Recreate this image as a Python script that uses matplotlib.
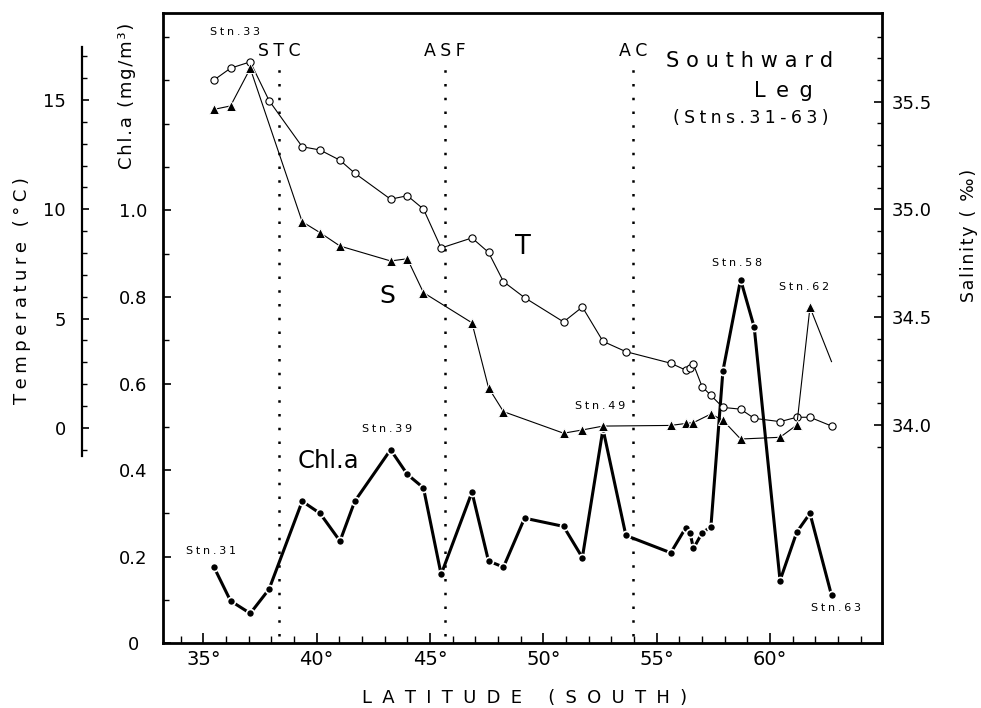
import matplotlib
matplotlib.use('Agg')
import matplotlib.pyplot as plt
from matplotlib.ticker import FixedLocator, MultipleLocator
import matplotlib.transforms as mtransforms
import numpy as np

plt.rcParams['font.family'] = ['DejaVu Sans']

# ---------------- data ----------------
stations = list(range(31, 64))
latitude = [35.47, 36.20, 37.07, 37.90, 39.36, 40.15, 41.03, 41.68, 43.26, 44.00,
            44.71, 45.49, 46.85, 47.58, 48.24, 49.17, 50.89, 51.72, 52.63, 53.64,
            55.62, 56.27, 56.47, 56.62, 57.00, 57.39, 57.92, 58.70, 59.30, 60.44,
            61.18, 61.76, 62.71]
chl = [0.176, 0.098, 0.069, 0.125, 0.328, 0.300, 0.236, 0.328, 0.447, 0.390,
       0.359, 0.159, 0.349, 0.190, 0.176, 0.289, 0.270, 0.198, 0.495, 0.249,
       0.209, 0.266, 0.255, 0.219, 0.255, 0.269, 0.629, 0.840, 0.730, 0.145,
       0.257, 0.300, 0.111]
temperature = [15.91, 16.45, 16.74, 14.97, 12.86, 12.71, 12.24, 11.65, 10.46, 10.62,
               10.01, 8.23, 8.69, 8.03, 6.69, 5.96, 4.85, 5.53, 3.96, 3.49,
               2.96, 2.65, 2.73, 2.91, 1.89, 1.49, 0.94, 0.86, 0.44, 0.29,
               0.49, 0.49, 0.09]
salinity = [35.464, 35.480, 35.654, None, 34.943, 34.892, 34.830, None, 34.761, 34.771,
            34.614, None, 34.474, 34.173, 34.062, None, 33.962, 33.977, 33.995, None,
            33.998, 34.007, None, 34.011, None, 34.051, 34.022, 33.935, None, 33.943,
            34.000, 34.546, 34.294]

front_names = ['STC', 'ASF', 'AC']
front_lat = [38.35, 45.65, 53.94]

lat_ticks = [35, 40, 45, 50, 55, 60]
chl_ticks = [0, 0.2, 0.4, 0.6, 0.8, 1.0]
chl_tick_labels = ['0', '0.2', '0.4', '0.6', '0.8', '1.0']
temp_ticks = [0, 5, 10, 15]
sal_ticks = [34.0, 34.5, 35.0, 35.5]
sal_tick_labels = ['34.0', '34.5', '35.0', '35.5']

# station labels: station -> (series it sits on, offset in points)
station_labels = {31: ('chl', (-1.9, 11.5)), 33: ('temp', (-10.8, 21.6)),
                  39: ('chl', (-2.3, 14.6)), 49: ('chl', (-2.2, 16.8)),
                  58: ('chl', (-2.3, 11.7)), 62: ('sal', (-4.3, 14.4)),
                  63: ('chl', (3.2, -9.4))}


def spaced(text, gap):
    return gap.join(text)


# ---------------- figure ----------------
fig = plt.figure(figsize=(9.81, 7.08), dpi=100)
ax = fig.add_axes([0.1665, 0.0914, 0.7323, 0.8898])
axT = ax.twinx()
axS = ax.twinx()

ax.set_xlim(33.236, 64.925)
ax.set_ylim(0, 1.455)
axT.set_ylim(-9.845, 18.96)
axS.set_ylim(32.9875, 35.9096)

for s in ax.spines.values():
    s.set_linewidth(2.0)
for s in axS.spines.values():
    s.set_visible(False)
for name, s in axT.spines.items():
    s.set_visible(name == 'left')
axT.spines['left'].set_position(('axes', -0.1132))
axT.spines['left'].set_bounds(-1.3, 17.4)
axT.spines['left'].set_linewidth(1.6)
axT.yaxis.set_ticks_position('left')
axT.yaxis.set_label_position('left')

# x axis
ax.xaxis.set_major_locator(FixedLocator(lat_ticks))
ax.set_xticklabels([f'{v}°' for v in lat_ticks])
ax.xaxis.set_minor_locator(MultipleLocator(1))
ax.tick_params(axis='x', which='major', direction='in', length=7, width=1.2,
               labelsize=14, pad=4.5, top=False)
ax.tick_params(axis='x', which='minor', direction='in', length=5, width=1.0, top=False)

# chl axis
ax.set_yticks(chl_ticks)
ax.set_yticklabels(chl_tick_labels)
ax.yaxis.set_minor_locator(MultipleLocator(0.1))
ax.tick_params(axis='y', which='major', direction='in', length=6, width=1.2,
               labelsize=13, pad=21.8, right=False)
ax.tick_params(axis='y', which='minor', direction='in', length=4, width=1.0, right=False)
for lbl in ax.get_yticklabels():
    lbl.set_horizontalalignment('center')

# temperature axis
axT.set_yticks(temp_ticks)
axT.yaxis.set_minor_locator(FixedLocator(np.arange(-1, 18)))
axT.tick_params(axis='y', which='major', direction='in', length=5, width=1.2,
                labelsize=13, pad=11.5)
axT.tick_params(axis='y', which='minor', direction='in', length=3.5, width=1.0)

# salinity axis
axS.set_yticks(sal_ticks)
axS.set_yticklabels(sal_tick_labels)
axS.yaxis.set_minor_locator(FixedLocator(np.arange(33.9, 35.85, 0.1)))
axS.tick_params(axis='y', which='major', direction='in', length=6, width=1.2,
                labelsize=13, pad=7.4)
axS.tick_params(axis='y', which='minor', direction='in', length=3.5, width=1.0)

# fronts
blend = mtransforms.blended_transform_factory(ax.transData, ax.transAxes)
for name, lat in zip(front_names, front_lat):
    ax.axvline(lat, ymin=0.0116, ymax=0.918, color='k', lw=1.8,
               linestyle=(0, (1, 4.5)), zorder=1)
    ax.text(lat, 0.94, spaced(name, '\u2005'), transform=blend, ha='center',
            va='center', fontsize=12.5)

# series
ax.plot(latitude, chl, color='k', lw=2.2, marker='o', ms=5.8, mfc='k',
        mec='white', mew=1.2, zorder=3)
axT.plot(latitude, temperature, color='k', lw=0.8, marker='o', ms=5.2,
         mfc='white', mec='k', mew=0.8, zorder=3)
lat_s = [la for la, s in zip(latitude, salinity) if s is not None]
sal_s = [s for s in salinity if s is not None]
axS.plot(lat_s, sal_s, color='k', lw=0.8, marker='^', ms=7, mfc='k',
         mec='white', mew=0.7, markevery=list(range(len(sal_s) - 1)), zorder=3)

# station labels
series = {'chl': (ax, chl), 'temp': (axT, temperature), 'sal': (axS, salinity)}
for st, (key, off) in station_labels.items():
    a, vals = series[key]
    i = stations.index(st)
    a.annotate(spaced(f'Stn.{st}', '\u2005'), xy=(latitude[i], vals[i]),
               xytext=off, textcoords='offset points', ha='center', va='center',
               fontsize=8)

# in-plot labels
ax.text(0.5011, 0.6295, 'T', transform=ax.transAxes, ha='center', va='center', fontsize=18.5)
ax.text(0.3118, 0.5513, 'S', transform=ax.transAxes, ha='center', va='center', fontsize=18)
ax.text(0.2297, 0.2898, 'Chl.a', transform=ax.transAxes, ha='center', va='center', fontsize=17.5)
ax.text(0.8167, 0.9243, spaced('Southward', '\u2004'), transform=ax.transAxes,
        ha='center', va='center', fontsize=15)
ax.text(0.8626, 0.8767, spaced('Leg', '\u2002'), transform=ax.transAxes,
        ha='center', va='center', fontsize=15)
ax.text(0.8181, 0.8338, spaced('(Stns.31-63)', '\u2005'), transform=ax.transAxes,
        ha='center', va='center', fontsize=12.5)

# axis titles
fig.text(0.5352, 0.0141, spaced('LATITUDE (SOUTH)', ' \u2005'), ha='center',
         va='center', fontsize=13)
fig.text(0.1295, 0.8644, spaced('Chl.a (mg/m³)', '\u200a'), rotation=90,
         ha='center', va='center', fontsize=13)
fig.text(0.0224, 0.589, spaced('Temperature (°C)', '\u2005'), rotation=90,
         ha='center', va='center', fontsize=13)
fig.text(0.9878, 0.668, spaced('Salinity ( ‰)', '\u200a'), rotation=90,
         ha='center', va='center', fontsize=12.5)

fig.savefig('out.png', dpi=100)
